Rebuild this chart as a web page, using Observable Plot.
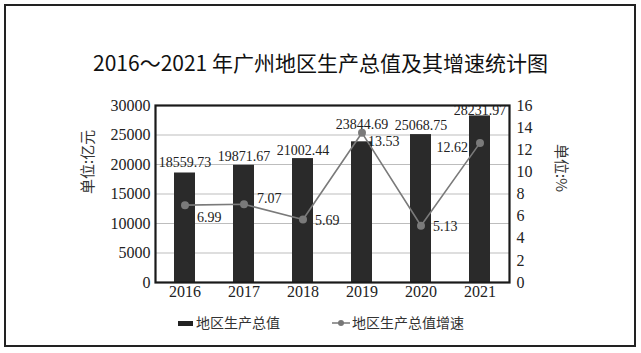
<!DOCTYPE html>
<html><head><meta charset="utf-8">
<script src="https://cdn.jsdelivr.net/npm/d3@7"></script>
<script src="https://cdn.jsdelivr.net/npm/@observablehq/plot@0.6"></script>
<style>
html,body{margin:0;padding:0;background:#fff;}
#page{position:relative;width:641px;height:353px;overflow:hidden;background:#fff;}
#border{position:absolute;left:4px;top:4px;width:628px;height:339px;border:2px solid #222;}
#title{position:absolute;left:0;width:641px;top:48px;text-align:center;font-family:"Noto Sans CJK SC";font-size:21px;line-height:28px;color:#111;}
#chart{position:absolute;left:0;top:90px;}
#legend{position:absolute;top:312px;left:0;width:641px;height:20px;font-family:"Noto Sans CJK SC";font-size:14px;color:#333;line-height:20px;}
.item{position:absolute;top:0;white-space:nowrap;}
.sw{display:inline-block;width:15px;height:5px;background:#222;vertical-align:middle;margin-right:3px;position:relative;top:-1px;}
.ln{display:inline-block;width:18px;height:8px;vertical-align:middle;margin-right:2px;position:relative;top:-1px;}
</style></head>
<body>
<div id="page">
  <div id="border"></div>
  <div id="title">2016～2021 年广州地区生产总值及其增速统计图</div>
  <div id="chart"></div>
  <div id="legend">
    <div class="item" style="left:178px"><span class="sw"></span>地区生产总值</div>
    <div class="item" style="left:332px"><svg class="ln" viewBox="0 0 18 8"><line x1="0" y1="4" x2="18" y2="4" stroke="#777" stroke-width="1.5"/><circle cx="9" cy="4" r="3" fill="#777"/></svg>地区生产总值增速</div>
  </div>
</div>
<script>
const years = ["2016","2017","2018","2019","2020","2021"];
const gdp = [18559.73, 19871.67, 21002.44, 23844.69, 25068.75, 28231.97];
const growth = [6.99, 7.07, 5.69, 13.53, 5.13, 12.62];
const leftTicks = [0, 5000, 10000, 15000, 20000, 25000, 30000];
const rightTicks = [0, 2, 4, 6, 8, 10, 12, 14, 16];

const K = 30000 / 16;
const data = years.map((y, i) => ({year: y, gdp: gdp[i], growth: growth[i], g: growth[i] * K}));

// label placement tweaks (presentation only)
const barDy = {"2016": -10, "2017": -9, "2018": -8, "2019": -17, "2020": -9, "2021": -5};
const rateDx = {"2016": 12, "2017": 13, "2018": 12, "2019": 6, "2020": 12, "2021": -12};
const rateDy = {"2016": 12, "2017": -6, "2018": 1, "2019": 9, "2020": 1, "2021": 5};

const serif = "Liberation Serif";
const cjk = "Noto Sans CJK SC";
const chart = Plot.plot({
  width: 641, height: 220,
  marginTop: 15, marginBottom: 28, marginLeft: 155, marginRight: 132,
  style: {fontFamily: serif, fontSize: "16px", color: "#222", background: "transparent"},
  x: {type: "band", domain: years, paddingInner: 0.64, paddingOuter: 0.32},
  y: {domain: [0, 30000]},
  marks: [
    Plot.gridY(leftTicks.slice(1, -1), {stroke: "#bdbdbd", strokeOpacity: 1}),
    Plot.barY(data, {x: "year", y: "gdp", fill: "#2a2a2a"}),
    Plot.axisX({tickSize: 0, tickPadding: 3, fontSize: 16, fontFamily: serif, fill: "#222", label: null}),
    Plot.axisY(leftTicks, {anchor: "left", tickSize: 0, tickPadding: 5, fontSize: 16, fontFamily: serif, fill: "#222", label: null, tickFormat: d => String(d)}),
    Plot.axisY(rightTicks.map(d => d * K), {anchor: "right", tickSize: 0, tickPadding: 7, fontSize: 16, fontFamily: serif, fill: "#222", label: null, tickFormat: d => String(Math.round(d / K))}),
    Plot.lineY(data, {x: "year", y: "g", stroke: "#7a7a7a", strokeWidth: 1.6}),
    Plot.dot(data, {x: "year", y: "g", r: 4, fill: "#7a7a7a"}),
    ...data.map(d => Plot.text([d], {x: "year", y: "gdp", text: v => v.gdp.toFixed(2), dy: barDy[d.year], fontSize: 14, fontFamily: serif, fill: "#222"})),
    ...data.map(d => Plot.text([d], {x: "year", y: "g", text: v => v.growth.toFixed(2), dx: rateDx[d.year], dy: rateDy[d.year], textAnchor: rateDx[d.year] < 0 ? "end" : "start", fontSize: 14, fontFamily: serif, fill: "#222"})),
    Plot.frame({stroke: "#1a1a1a", strokeWidth: 2.2}),
    Plot.text(["单位:亿元"], {frameAnchor: "left", dx: -67, rotate: -90, fontFamily: cjk, fontSize: 15, fill: "#333"}),
    Plot.text(["单位:%"], {frameAnchor: "right", dx: 51, dy: -2, rotate: 90, fontFamily: cjk, fontSize: 15, fill: "#333"})
  ]
});
document.getElementById("chart").appendChild(chart);
</script>
</body></html>
